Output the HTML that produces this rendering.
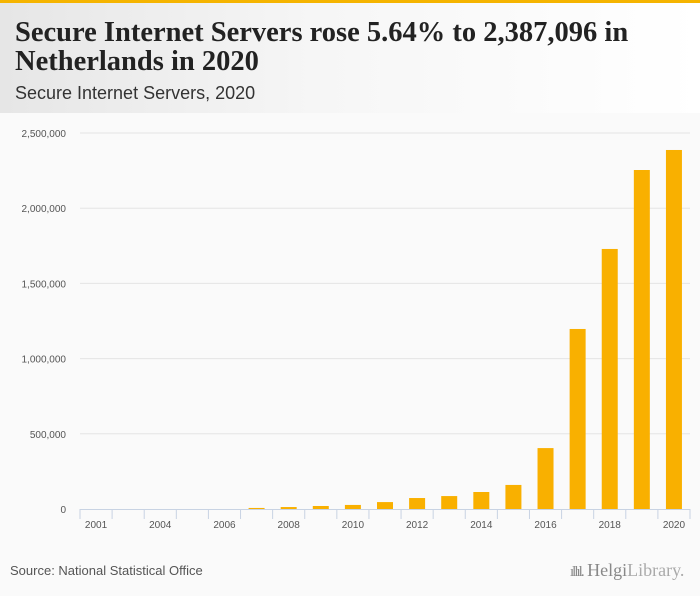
<!DOCTYPE html>
<html><head><meta charset="utf-8"><style>
body{margin:0;width:700px;height:596px;background:#fafafa;font-family:"Liberation Sans",sans-serif;overflow:hidden;position:relative}
#top{position:absolute;left:0;top:0;width:700px;height:3px;background:#f5b400}
#hdr{position:absolute;left:0;top:3px;width:700px;height:110px;background:linear-gradient(90deg,#e6e6e6 0%,#f6f6f6 45%,#fff 100%)}
#title{position:absolute;left:15px;top:15px;font-family:"Liberation Serif",serif;font-weight:bold;font-size:28.5px;line-height:29px;color:#222;margin:0;white-space:nowrap}
#sub{position:absolute;left:15px;top:80px;font-size:18px;color:#333}
#src{position:absolute;left:10px;top:563px;font-size:13px;color:#555}
#logo{position:absolute;left:570px;top:560px;font-size:18px;color:#888;font-family:"Liberation Serif",serif}
</style></head><body>
<div id="top"></div>
<div id="hdr">
<h1 id="title">Secure Internet Servers rose 5.64% to 2,387,096 in<br>Netherlands in 2020</h1>
<div id="sub">Secure Internet Servers, 2020</div>
</div>
<svg id="chart" width="700" height="596" style="position:absolute;left:0;top:0"></svg>
<div id="src">Source: National Statistical Office</div>
<div id="logo"><span style="font-size:15px;letter-spacing:-2px">ıllıl.</span> Helgi<span style="color:#aaa">Library.</span></div>
<script>
const categories=["2001","2003","2004","2005","2006","2007","2008","2009","2010","2011","2012","2013","2014","2015","2016","2017","2018","2019","2020"];
const values=[0,0,0,0,0,7000,13000,20000,27000,46000,73000,86000,113000,160000,405000,1197000,1729000,2254000,2387096];
const yTicks=[0,500000,1000000,1500000,2000000,2500000];
const yTickLabels=["0","500,000","1,000,000","1,500,000","2,000,000","2,500,000"];
const showLabel=[true,false,true,false,true,false,true,false,true,false,true,false,true,false,true,false,true,false,true];
const svg=document.getElementById('chart');const NS='http://www.w3.org/2000/svg';
const x0=80,x1=690,y0=509,yTop=133,yMax=2500000;
const slot=(x1-x0)/categories.length;
const y=v=>y0-(v/yMax)*(y0-yTop);
const xc=i=>x0+slot*(i+0.5);
function mk(t,a){const e=document.createElementNS(NS,t);for(const k in a)e.setAttribute(k,a[k]);svg.appendChild(e);return e;}
yTicks.forEach((v,i)=>{
 if(i>0){const g=mk('line',{x1:x0,x2:x1,y1:y(v),y2:y(v),stroke:'#e4e4e4','stroke-width':1});
 
 }
 const t=mk('text',{x:66,y:y(v)+4,'text-anchor':'end','font-size':10,fill:'#555','font-family':'Liberation Sans, sans-serif'});
 t.textContent=yTickLabels[i];
 
 
});
values.forEach((v,i)=>{
 const r=mk('rect',{x:xc(i)-8,y:y(v),width:16,height:y0-y(v),fill:'#f9b000'});
 
 
});
const ax=mk('line',{x1:x0,x2:x1,y1:y0+0.5,y2:y0+0.5,stroke:'#c8d3e3','stroke-width':1});


for(let i=0;i<=categories.length;i++){
 const tk=mk('line',{x1:x0+slot*i,x2:x0+slot*i,y1:y0,y2:y0+10,stroke:'#c8d3e3','stroke-width':1});
 
 
}
categories.forEach((c,i)=>{
 if(!showLabel[i])return;
 const t=mk('text',{x:xc(i),y:y0+19,'text-anchor':'middle','font-size':10,fill:'#555','font-family':'Liberation Sans, sans-serif'});
 t.textContent=c;
 
 
});
</script>
</body></html>
